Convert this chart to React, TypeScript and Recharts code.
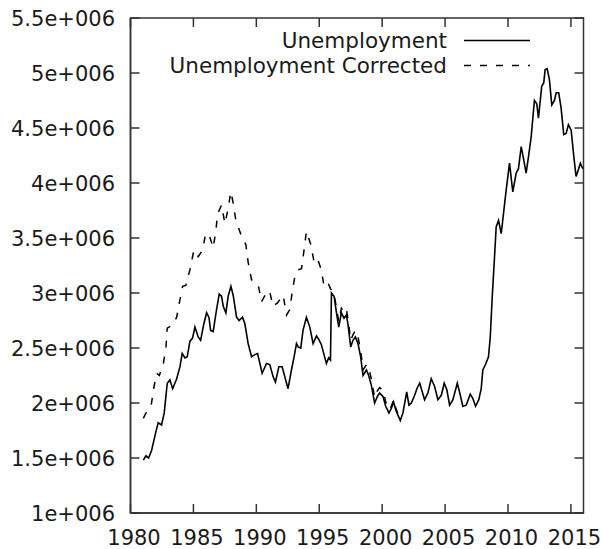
import { LineChart, Line, XAxis, YAxis, ReferenceArea } from "recharts";

// Monthly-ish readings, decimal years
const unemploymentYears = [
  1981.02, 1981.23, 1981.44, 1981.68, 1982.02, 1982.2, 1982.47, 1982.68, 1982.92,
  1983.13, 1983.35, 1983.67, 1983.93, 1984.11, 1984.33, 1984.51, 1984.72, 1984.93,
  1985.12, 1985.38, 1985.57, 1985.83, 1986.05, 1986.23, 1986.37, 1986.57, 1986.84,
  1987.05, 1987.24, 1987.37, 1987.58, 1987.76, 1987.98, 1988.16, 1988.43, 1988.63,
  1988.9, 1989.09, 1989.35, 1989.62, 1989.88, 1990.1, 1990.28, 1990.46, 1990.81,
  1991.07, 1991.33, 1991.52, 1991.79, 1992.05, 1992.26, 1992.52, 1992.79, 1993.0,
  1993.19, 1993.32, 1993.53, 1993.71, 1993.98, 1994.25, 1994.51, 1994.78, 1994.95,
  1995.17, 1995.38, 1995.57, 1995.75, 1995.89, 1995.97, 1996.18, 1996.37, 1996.55,
  1996.76, 1996.97, 1997.16, 1997.29, 1997.5, 1997.68, 1997.87, 1998.08, 1998.29,
  1998.48, 1998.75, 1998.93, 1999.14, 1999.4, 1999.62, 1999.8, 2000.06, 2000.28,
  2000.54, 2000.73, 2000.91, 2001.07, 2001.25, 2001.44, 2001.65, 2001.95, 2002.13,
  2002.32, 2002.58, 2002.76, 2002.98, 2003.19, 2003.37, 2003.63, 2003.9, 2004.17,
  2004.43, 2004.7, 2004.93, 2005.14, 2005.36, 2005.62, 2005.97, 2006.15, 2006.41,
  2006.68, 2007.0, 2007.21, 2007.42, 2007.68, 2007.87, 2008.0, 2008.21, 2008.45,
  2008.59, 2008.75, 2008.93, 2009.06, 2009.25, 2009.46, 2009.64, 2009.86, 2010.12,
  2010.38, 2010.65, 2010.83, 2011.05, 2011.25, 2011.44, 2011.63, 2011.84, 2012.1,
  2012.29, 2012.42, 2012.68, 2012.84, 2012.95, 2013.11, 2013.29, 2013.48, 2013.69,
  2013.83, 2014.03, 2014.22, 2014.43, 2014.62, 2014.8, 2015.02, 2015.23, 2015.41,
  2015.59, 2015.75, 2015.94,
];

const unemploymentValues = [
  1.48e6, 1.52e6, 1.5e6, 1.57e6, 1.74e6, 1.82e6, 1.8e6, 1.91e6, 2.18e6,
  2.21e6, 2.13e6, 2.22e6, 2.33e6, 2.45e6, 2.41e6, 2.42e6, 2.56e6, 2.59e6,
  2.69e6, 2.6e6, 2.57e6, 2.72e6, 2.82e6, 2.78e6, 2.66e6, 2.65e6, 2.85e6,
  2.99e6, 2.97e6, 2.88e6, 2.82e6, 2.97e6, 3.06e6, 2.98e6, 2.78e6, 2.75e6,
  2.78e6, 2.72e6, 2.54e6, 2.42e6, 2.44e6, 2.45e6, 2.36e6, 2.27e6, 2.36e6,
  2.35e6, 2.24e6, 2.19e6, 2.33e6, 2.33e6, 2.24e6, 2.13e6, 2.3e6, 2.42e6,
  2.54e6, 2.51e6, 2.5e6, 2.66e6, 2.78e6, 2.69e6, 2.54e6, 2.61e6, 2.58e6,
  2.53e6, 2.44e6, 2.36e6, 2.41e6, 2.39e6, 3.0e6, 2.97e6, 2.82e6, 2.69e6,
  2.82e6, 2.77e6, 2.8e6, 2.71e6, 2.51e6, 2.57e6, 2.6e6, 2.54e6, 2.42e6,
  2.25e6, 2.3e6, 2.25e6, 2.16e6, 2.0e6, 2.06e6, 2.09e6, 2.06e6, 1.97e6,
  1.91e6, 1.95e6, 2.01e6, 1.94e6, 1.89e6, 1.84e6, 1.91e6, 2.1e6, 1.98e6,
  2.0e6, 2.07e6, 2.13e6, 2.18e6, 2.1e6, 2.03e6, 2.09e6, 2.22e6, 2.15e6,
  2.03e6, 2.07e6, 2.18e6, 2.12e6, 1.98e6, 2.03e6, 2.18e6, 2.1e6, 1.97e6,
  1.98e6, 2.08e6, 2.04e6, 1.97e6, 2.03e6, 2.13e6, 2.3e6, 2.35e6, 2.42e6,
  2.6e6, 2.97e6, 3.33e6, 3.6e6, 3.66e6, 3.54e6, 3.72e6, 3.94e6, 4.18e6,
  3.92e6, 4.09e6, 4.13e6, 4.33e6, 4.21e6, 4.09e6, 4.24e6, 4.42e6, 4.75e6,
  4.72e6, 4.59e6, 4.88e6, 4.91e6, 5.03e6, 5.04e6, 4.94e6, 4.71e6, 4.75e6,
  4.82e6, 4.82e6, 4.68e6, 4.44e6, 4.45e6, 4.53e6, 4.48e6, 4.24e6, 4.06e6,
  4.12e6, 4.18e6, 4.13e6,
];

// The corrected series joins the raw one from 2001 on
const correctedYears = [
  1981.02, 1981.23, 1981.63, 1981.87, 1982.08, 1982.29, 1982.6, 1982.82, 1982.92,
  1983.19, 1983.4, 1983.67, 1983.93, 1984.14, 1984.4, 1984.72, 1985.04, 1985.38,
  1985.73, 1985.97, 1986.25, 1986.57, 1986.79, 1986.92, 1987.24, 1987.5, 1987.71,
  1987.98, 1988.16, 1988.37, 1988.75, 1989.17, 1989.35, 1989.62, 1990.14, 1990.41,
  1990.89, 1991.07, 1991.33, 1991.68, 1992.13, 1992.4, 1992.66, 1992.84, 1993.06,
  1993.32, 1993.59, 1993.79, 1993.98, 1994.33, 1994.59, 1994.86, 1995.17, 1995.38,
  1995.7, 1995.89, 1996.01, 1996.18, 1996.37, 1996.55, 1996.76, 1996.97, 1997.16,
  1997.29, 1997.5, 1997.68, 1997.87, 1998.08, 1998.29, 1998.48, 1998.75, 1998.93,
  1999.14, 1999.4, 1999.62, 1999.8, 2000.06, 2000.28, 2000.54, 2000.73, 2000.91,
  2001.07, 2001.25, 2001.44,
];

const correctedValues = [
  1.86e6, 1.91e6, 1.97e6, 2.15e6, 2.27e6, 2.25e6, 2.35e6, 2.51e6, 2.68e6,
  2.7e6, 2.72e6, 2.78e6, 2.94e6, 3.06e6, 3.07e6, 3.21e6, 3.39e6, 3.33e6,
  3.39e6, 3.54e6, 3.53e6, 3.41e6, 3.57e6, 3.72e6, 3.8e6, 3.63e6, 3.74e6,
  3.92e6, 3.82e6, 3.66e6, 3.54e6, 3.44e6, 3.28e6, 3.12e6, 3.08e6, 2.92e6,
  3.02e6, 3.01e6, 2.88e6, 2.91e6, 2.98e6, 2.8e6, 2.85e6, 3.0e6, 3.15e6,
  3.21e6, 3.22e6, 3.39e6, 3.56e6, 3.44e6, 3.28e6, 3.31e6, 3.21e6, 3.06e6,
  3.09e6, 3.04e6, 3.02e6, 2.99e6, 2.86e6, 2.74e6, 2.86e6, 2.82e6, 2.85e6,
  2.76e6, 2.57e6, 2.62e6, 2.66e6, 2.6e6, 2.48e6, 2.3e6, 2.35e6, 2.32e6,
  2.22e6, 2.05e6, 2.11e6, 2.14e6, 2.12e6, 2.01e6, 1.94e6, 1.97e6, 2.03e6,
  1.96e6, 1.9e6, 1.85e6,
];

const yearTicks = [1980, 1985, 1990, 1995, 2000, 2005, 2010, 2015];
const valueTicks = [1e6, 1.5e6, 2e6, 2.5e6, 3e6, 3.5e6, 4e6, 4.5e6, 5e6, 5.5e6];

const unemployment = unemploymentYears.map((year, i) => ({
  year,
  value: unemploymentValues[i],
}));
const corrected = correctedYears.map((year, i) => ({
  year,
  value: correctedValues[i],
}));

const WIDTH = 601;
const HEIGHT = 549;
const MARGIN = { top: 18, right: 17.5, bottom: 0, left: 0 };
const X_AXIS_HEIGHT = 36;
const Y_AXIS_WIDTH = 130.5;
// plot box edges, used for the inward tick marks on all four sides
const PLOT_TOP = MARGIN.top;
const PLOT_BOTTOM = HEIGHT - MARGIN.bottom - X_AXIS_HEIGHT;
const PLOT_LEFT = MARGIN.left + Y_AXIS_WIDTH;
const PLOT_RIGHT = WIDTH - MARGIN.right;
const TICK_LEN = 9;

const FONT = "DejaVu Sans, sans-serif";
const INK = "#1a1a1a";
const AXIS = "#333";
const FRAME_W = 1.5;
const DASH = "7 9";

const formatValue = (v: number) => `${v / 1e6}e+006`;

const YearTick = ({ x, payload }: any) => (
  <g>
    <line x1={x} x2={x} y1={PLOT_BOTTOM} y2={PLOT_BOTTOM - TICK_LEN} stroke={AXIS} strokeWidth={FRAME_W} />
    <line x1={x} x2={x} y1={PLOT_TOP} y2={PLOT_TOP + TICK_LEN} stroke={AXIS} strokeWidth={FRAME_W} />
    <text x={x + 3.5} y={PLOT_BOTTOM + 32} textAnchor="middle" fontFamily={FONT} fontSize={21} fill={INK}>
      {payload.value}
    </text>
  </g>
);

const ValueTick = ({ y, payload }: any) => (
  <g>
    <line x1={PLOT_LEFT} x2={PLOT_LEFT + TICK_LEN} y1={y} y2={y} stroke={AXIS} strokeWidth={FRAME_W} />
    <line x1={PLOT_RIGHT} x2={PLOT_RIGHT - TICK_LEN} y1={y} y2={y} stroke={AXIS} strokeWidth={FRAME_W} />
    <text x={PLOT_LEFT - 15.5} y={y + 7.5} textAnchor="end" fontFamily={FONT} fontSize={21} fill={INK}>
      {formatValue(payload.value)}
    </text>
  </g>
);

const LegendRow = ({ top, label, dashed }: { top: number; label: string; dashed?: boolean }) => (
  <>
    <div
      style={{
        position: "absolute",
        right: 154,
        top,
        lineHeight: "25px",
        fontFamily: FONT,
        fontSize: 21.5,
        color: INK,
        whiteSpace: "nowrap",
      }}
    >
      {label}
    </div>
    <svg style={{ position: "absolute", left: 464, top }} width={68} height={25}>
      <line
        x1={0}
        x2={66}
        y1={12.5}
        y2={12.5}
        stroke="#000"
        strokeWidth={1.6}
        strokeDasharray={dashed ? DASH : undefined}
      />
    </svg>
  </>
);

export default function App() {
  return (
    <div style={{ position: "absolute", left: 0, top: 0 }}>
      <LineChart width={WIDTH} height={HEIGHT} margin={MARGIN}>
        <XAxis
          dataKey="year"
          type="number"
          domain={[1980, 2016]}
          ticks={yearTicks}
          height={X_AXIS_HEIGHT}
          stroke={AXIS}
          strokeWidth={FRAME_W}
          tickSize={0}
          tick={YearTick}
        />
        <YAxis
          type="number"
          domain={[1e6, 5.5e6]}
          ticks={valueTicks}
          width={Y_AXIS_WIDTH}
          stroke={AXIS}
          strokeWidth={FRAME_W}
          tickSize={0}
          tick={ValueTick}
        />
        {/* closes the frame on the top and right */}
        <ReferenceArea
          x1={1980}
          x2={2016}
          y1={1e6}
          y2={5.5e6}
          fill="none"
          stroke={AXIS}
          strokeWidth={FRAME_W}
          ifOverflow="visible"
        />
        <Line
          data={corrected}
          dataKey="value"
          name="Unemployment Corrected"
          type="linear"
          stroke="#000"
          strokeWidth={1.5}
          strokeDasharray={DASH}
          dot={false}
          isAnimationActive={false}
        />
        <Line
          data={unemployment}
          dataKey="value"
          name="Unemployment"
          type="linear"
          stroke="#000"
          strokeWidth={1.6}
          dot={false}
          isAnimationActive={false}
        />
      </LineChart>
      <LegendRow top={27.5} label="Unemployment" />
      <LegendRow top={52.5} label="Unemployment Corrected" dashed />
    </div>
  );
}
